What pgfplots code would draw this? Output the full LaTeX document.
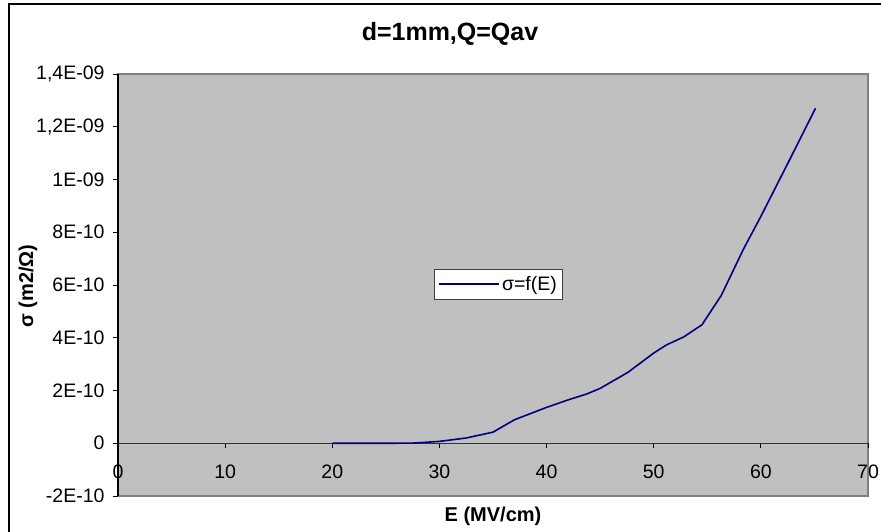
\documentclass[border=0pt]{standalone}
\usepackage{pgfplots}
\pgfplotsset{compat=1.18}
\usepackage{fontspec}
\setmainfont{Liberation Sans}
\definecolor{plotgray}{HTML}{C0C0C0}
\definecolor{bordergray}{HTML}{808080}
\definecolor{navyline}{HTML}{000080}
\begin{document}
\begin{tikzpicture}[x=1pt,y=1pt]
\useasboundingbox (0,0) rectangle (881,532);
\draw[black, line width=1.2pt] (9,-20) -- (9,528) -- (900,528);
\begin{axis}[
  at={(118pt,36pt)}, anchor=south west,
  scale only axis, width=750pt, height=422pt,
  xmin=0, xmax=70, ymin=-2, ymax=14,
  axis x line=middle, axis y line=left,
  hide obscured x ticks=false,
  axis line style={-},
  x axis line style={draw=black!80, line width=1pt},
  y axis line style={draw=black, line width=1.2pt},
  xtick={0,10,...,70}, xticklabels={0,10,20,30,40,50,60,70},
  ytick={-2,0,...,14},
  yticklabels={-2E-10,0,2E-10,4E-10,6E-10,8E-10,1E-09,{1,2E-09},{1,4E-09}},
  tick align=outside, major tick length=5pt,
  tick style={black, line width=0.9pt},
  ticklabel style={font=\fontsize{19.5}{23}\selectfont},
  xticklabel style={anchor=north, yshift=-13pt},
  yticklabel style={anchor=east, xshift=-5pt},
  axis background/.style={fill=plotgray, draw=bordergray, line width=1.6pt},
  legend style={at={(rel axis cs:0.4213,0.538)}, anchor=north west,
    draw=black!75, fill=white, line width=0.9pt,
    font=\fontsize{19.5}{23}\selectfont,
    inner xsep=4pt, inner ysep=5pt},
  legend image code/.code={\draw[#1, line width=1.6pt] (0pt,0pt) -- (60pt,0pt);},
  legend cell align=left,
]
\addplot[navyline, line width=1.6pt] coordinates {
(20,0) (22.5,0) (25,0) (27.5,0.005) (30,0.07) (32.5,0.2) (35,0.42)
(37,0.89) (40,1.36) (42.2,1.67) (43.7,1.86) (45,2.08) (47.6,2.69)
(50,3.42) (51.2,3.73) (52.8,4.03) (54.5,4.49) (56.3,5.6) (58.4,7.38)
(60,8.6) (62.5,10.6) (65.1,12.7)
};
\addlegendentry{σ=f(E)}
\end{axis}
\node[font=\bfseries\fontsize{25}{30}\selectfont] at (450,498) {d=1mm,Q=Qav};
\node[font=\bfseries\fontsize{20}{24}\selectfont] at (493,16) {E (MV/cm)};
\node[font=\bfseries\fontsize{20}{24}\selectfont, rotate=90] at (28,246) {σ (m2/Ω)};
\end{tikzpicture}
\end{document}
